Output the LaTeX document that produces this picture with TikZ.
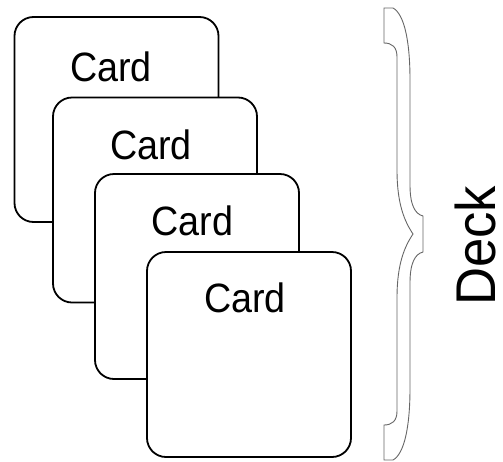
\documentclass[tikz,border=0pt]{standalone}
\usepackage{fontspec}
\setmainfont{Liberation Sans}
\tikzset{
  cardbox/.style={draw=black, line width=1.8pt, fill=white, rounded corners=19pt,
    minimum width=204pt, minimum height=205pt, inner sep=0pt, outer sep=0pt},
  cardtext/.style={inner sep=0pt, font=\fontsize{41}{41}\selectfont},
  decktext/.style={inner sep=0pt, rotate=90, font=\fontsize{56}{56}\selectfont},
  braceline/.style={draw=black!60, line width=0.9pt, fill=white}
}
\begin{document}
\begin{tikzpicture}[x=1pt, y=-1pt]
\useasboundingbox (0,0) rectangle (503,461);
% cards
\node[cardbox] (card1) at (116.5,119.5) {};
\node[cardtext] (lab1) at (111,67) {\scalebox{0.92}[1]{Card}};
\node[cardbox] (card2) at (155,200) {};
\node[cardtext] (lab2) at (151,145) {\scalebox{0.92}[1]{Card}};
\node[cardbox] (card3) at (197,276.5) {};
\node[cardtext] (lab3) at (192.5,221) {\scalebox{0.92}[1]{Card}};
\node[cardbox] (card4) at (249,354.5) {};
\node[cardtext] (lab4) at (245,298) {\scalebox{0.92}[1]{Card}};
% brace
\path[braceline] (384,8) -- (393,8)
  .. controls (404,14) and (410,40) .. (410,80)
  -- (410,185)
  .. controls (410,205) and (415,214) .. (423,216)
  -- (423,252)
  .. controls (415,254) and (410,263) .. (410,283)
  -- (410,388)
  .. controls (410,428) and (404,454) .. (393,460)
  -- (384,460) -- (384,425)
  .. controls (392,425) and (397,421) .. (397,411)
  -- (397,298)
  .. controls (397,263) and (405,246) .. (413,234)
  .. controls (405,222) and (397,205) .. (397,170)
  -- (397,57)
  .. controls (397,47) and (392,43) .. (384,43)
  -- cycle;
\node[decktext] (deck) at (475,246) {\scalebox{0.94}[1]{Deck}};
\end{tikzpicture}
\end{document}
